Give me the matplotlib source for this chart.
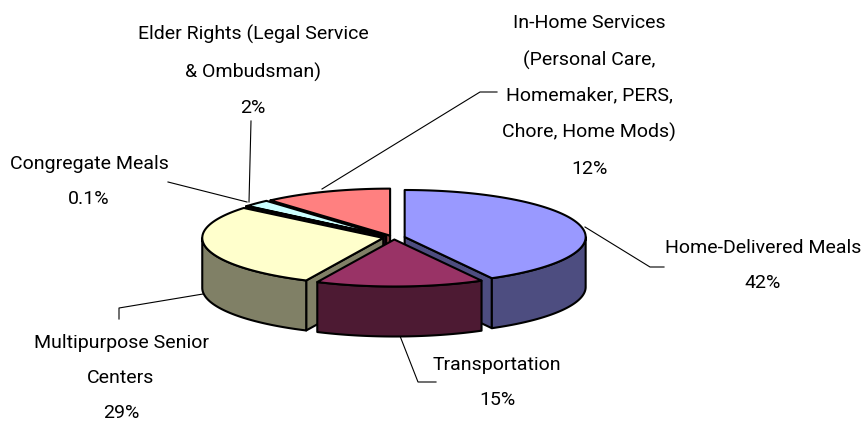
import numpy as np
import matplotlib
matplotlib.use('Agg')
import matplotlib.pyplot as plt
from matplotlib.patches import Polygon

categories = ['Home-Delivered Meals', 'Transportation', 'Multipurpose Senior\nCenters',
              'Congregate Meals', 'Elder Rights (Legal Service\n& Ombudsman)',
              'In-Home Services\n(Personal Care,\nHomemaker, PERS,\nChore, Home Mods)']
# shares, the printed labels are rounded
values = [42, 15, 29, 0.1, 2.4, 11.5]
value_labels = ['42%', '15%', '29%', '0.1%', '2%', '12%']
top_colors = ['#9999FF', '#993366', '#FFFFCC', '#660066', '#CCFFFF', '#FF8080']
side_colors = ['#4D4D80', '#4D1A33', '#808066', '#330033', '#668080', '#804040']
label_pos = [(763, 239), (497, 356), (121, 334), (89, 155), (253, 25), (589, 14)]
leaders = [[(585, 228), (650, 268), (664, 268)],
           [(400, 337), (418, 383), (436, 383)],
           [(203, 295), (119, 309), (119, 320)],
           [(247, 203), (168, 183)],
           [(249, 203), (251, 122)],
           [(322, 190), (480, 93), (497, 93)]]

cx, cy = 394, 238.5
rx, ry = 181, 47
depth = 50
explode_x, explode_y = 11, 2

plt.rcParams['font.family'] = ['Roboto', 'Liberation Sans', 'DejaVu Sans']
fig = plt.figure(figsize=(8.63, 4.27), dpi=100)
ax = fig.add_axes([0, 0, 1, 1])
ax.set_xlim(0, 863)
ax.set_ylim(427, 0)
ax.axis('off')

edges = np.cumsum([0] + values) / sum(values) * 360


def rim(x0, y0, a, b):
    t = np.radians(np.linspace(a, b, max(int(abs(b - a)) * 2, 2)))
    return np.column_stack([x0 + rx * np.sin(t), y0 - ry * np.cos(t)])


def face(points, color, z):
    ax.add_patch(Polygon(points, closed=True, facecolor=color, edgecolor='black',
                         linewidth=1.5, joinstyle='round', zorder=z))


for l in leaders:
    ax.plot(*zip(*l), color='black', lw=0.8, zorder=1)

# back slices first
order = [5, 4, 3, 2, 0, 1]
for z, i in enumerate(order):
    a, b = edges[i], edges[i + 1]
    mid = np.radians((a + b) / 2)
    x0 = cx + explode_x * np.sin(mid)
    y0 = cy - explode_y * np.cos(mid)
    down = np.array([0, depth])
    apex = np.array([[x0, y0]])
    base = 10 + z * 3
    # cut faces
    if np.sin(np.radians(a)) < -1e-6:
        p = rim(x0, y0, a, a + 0.01)[:1]
        face(np.vstack([apex, p, p + down, apex + down]), side_colors[i], base)
    if np.sin(np.radians(b)) > 1e-6:
        p = rim(x0, y0, b, b + 0.01)[:1]
        face(np.vstack([apex, p, p + down, apex + down]), side_colors[i], base)
    # outer wall, only the front half shows
    lo, hi = max(a, 90), min(b, 270)
    if hi > lo:
        r = rim(x0, y0, lo, hi)
        face(np.vstack([r, (r + down)[::-1]]), side_colors[i], base + 1)
    face(np.vstack([apex, rim(x0, y0, a, b)]), top_colors[i], base + 2)

for name, val, (x, y) in zip(categories, value_labels, label_pos):
    ax.text(x, y, name + '\n' + val, ha='center', va='top', fontsize=14,
            linespacing=2.23, color='black', zorder=40)

fig.savefig('out.png', dpi=100)
